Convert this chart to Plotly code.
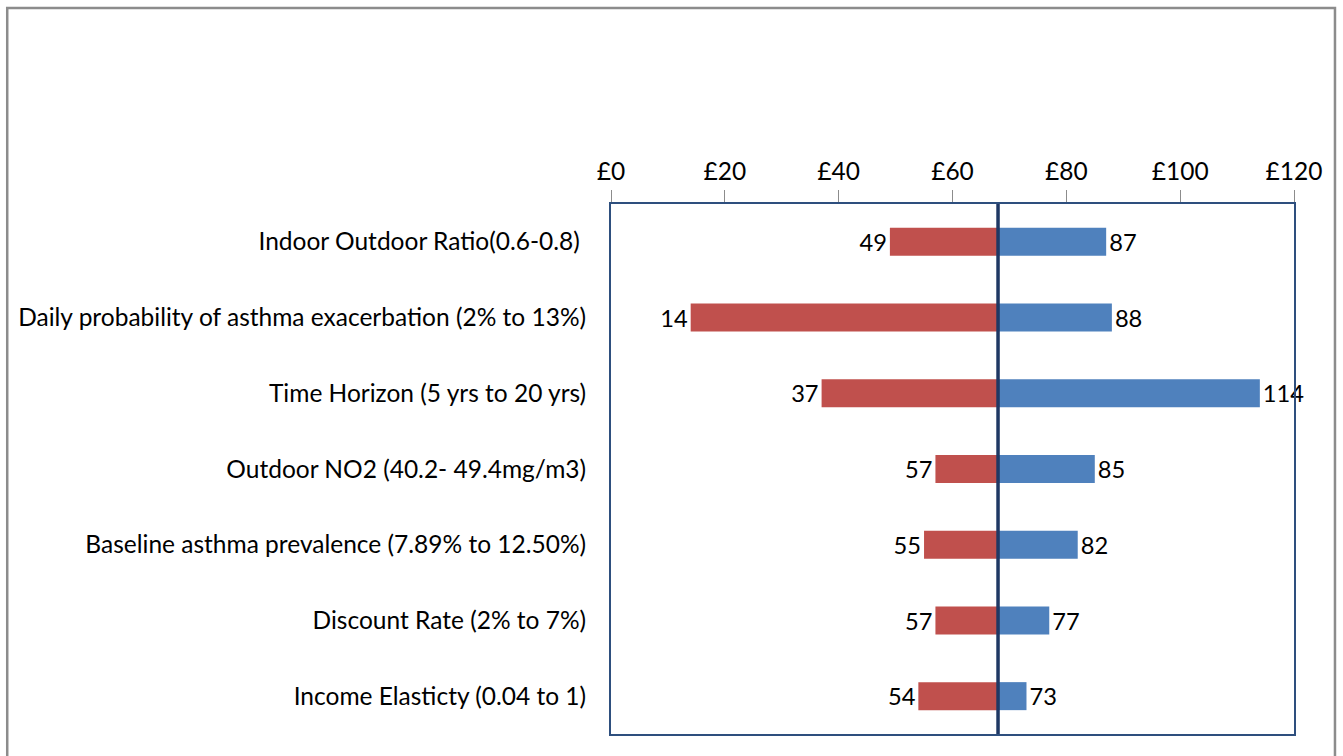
import plotly.graph_objects as go

# Tornado chart: one-way sensitivity of the benefit estimate (£)
parameters = [
    "Indoor Outdoor Ratio(0.6-0.8)\u00a0",
    "Daily probability of asthma exacerbation (2% to 13%)",
    "Time Horizon (5 yrs to 20 yrs)",
    "Outdoor NO2 (40.2- 49.4mg/m3)",
    "Baseline asthma prevalence (7.89% to 12.50%)",
    "Discount Rate (2% to 7%)",
    "Income Elasticty (0.04 to 1)",
]
low_values = [49, 14, 37, 57, 55, 57, 54]
high_values = [87, 88, 114, 85, 82, 77, 73]
base_value = 68
x_ticks = [0, 20, 40, 60, 80, 100, 120]

RED = "#C0504D"
BLUE = "#4F81BD"
NAVY = "#1F3864"
FONT = "Lato"
FS = 24.5

fig = go.Figure()

fig.add_trace(go.Bar(
    y=parameters,
    x=[v - base_value for v in low_values],
    base=base_value,
    orientation="h",
    marker=dict(color=RED, line=dict(width=0)),
    width=0.37,
    text=[str(v) for v in low_values],
    textposition="outside",
    textfont=dict(size=FS, color="#000000", family=FONT),
    cliponaxis=False,
    hoverinfo="skip",
))
fig.add_trace(go.Bar(
    y=parameters,
    x=[v - base_value for v in high_values],
    base=base_value,
    orientation="h",
    marker=dict(color=BLUE, line=dict(width=0)),
    width=0.37,
    text=[str(v) for v in high_values],
    textposition="outside",
    textfont=dict(size=FS, color="#000000", family=FONT),
    cliponaxis=False,
    hoverinfo="skip",
))

# base-case line
fig.add_shape(type="line", xref="x", yref="paper",
              x0=base_value, x1=base_value, y0=0, y1=1,
              line=dict(color=NAVY, width=3.5))

# outer chart frame
fig.add_shape(type="rect", xref="paper", yref="paper",
              x0=-0.884, x1=1.060, y0=-0.2, y1=1.370,
              line=dict(color="#8C8C8C", width=2.5), layer="below")

fig.update_layout(
    width=1343, height=756,
    margin=dict(l=611, r=49, t=204, b=22),
    paper_bgcolor="white", plot_bgcolor="white",
    barmode="overlay",
    showlegend=False,
    font=dict(family=FONT, size=FS, color="#000000"),
    xaxis=dict(
        side="top", range=[0, 120],
        tickvals=x_ticks, ticktext=[f"£{v}" for v in x_ticks],
        ticks="outside", ticklen=12, tickcolor="#8C8C8C", tickwidth=1,
        showgrid=False, zeroline=False,
        showline=True, linecolor="#2E4F7E", linewidth=2, mirror=True,
        tickfont=dict(size=FS, family=FONT),
    ),
    yaxis=dict(
        categoryorder="array", categoryarray=parameters,
        autorange="reversed",
        showgrid=False, zeroline=False,
        showline=True, linecolor="#2E4F7E", linewidth=2, mirror=True,
        ticks="", ticklabelstandoff=18,
        tickfont=dict(size=FS, family=FONT),
    ),
)

fig.write_html("out.html")
